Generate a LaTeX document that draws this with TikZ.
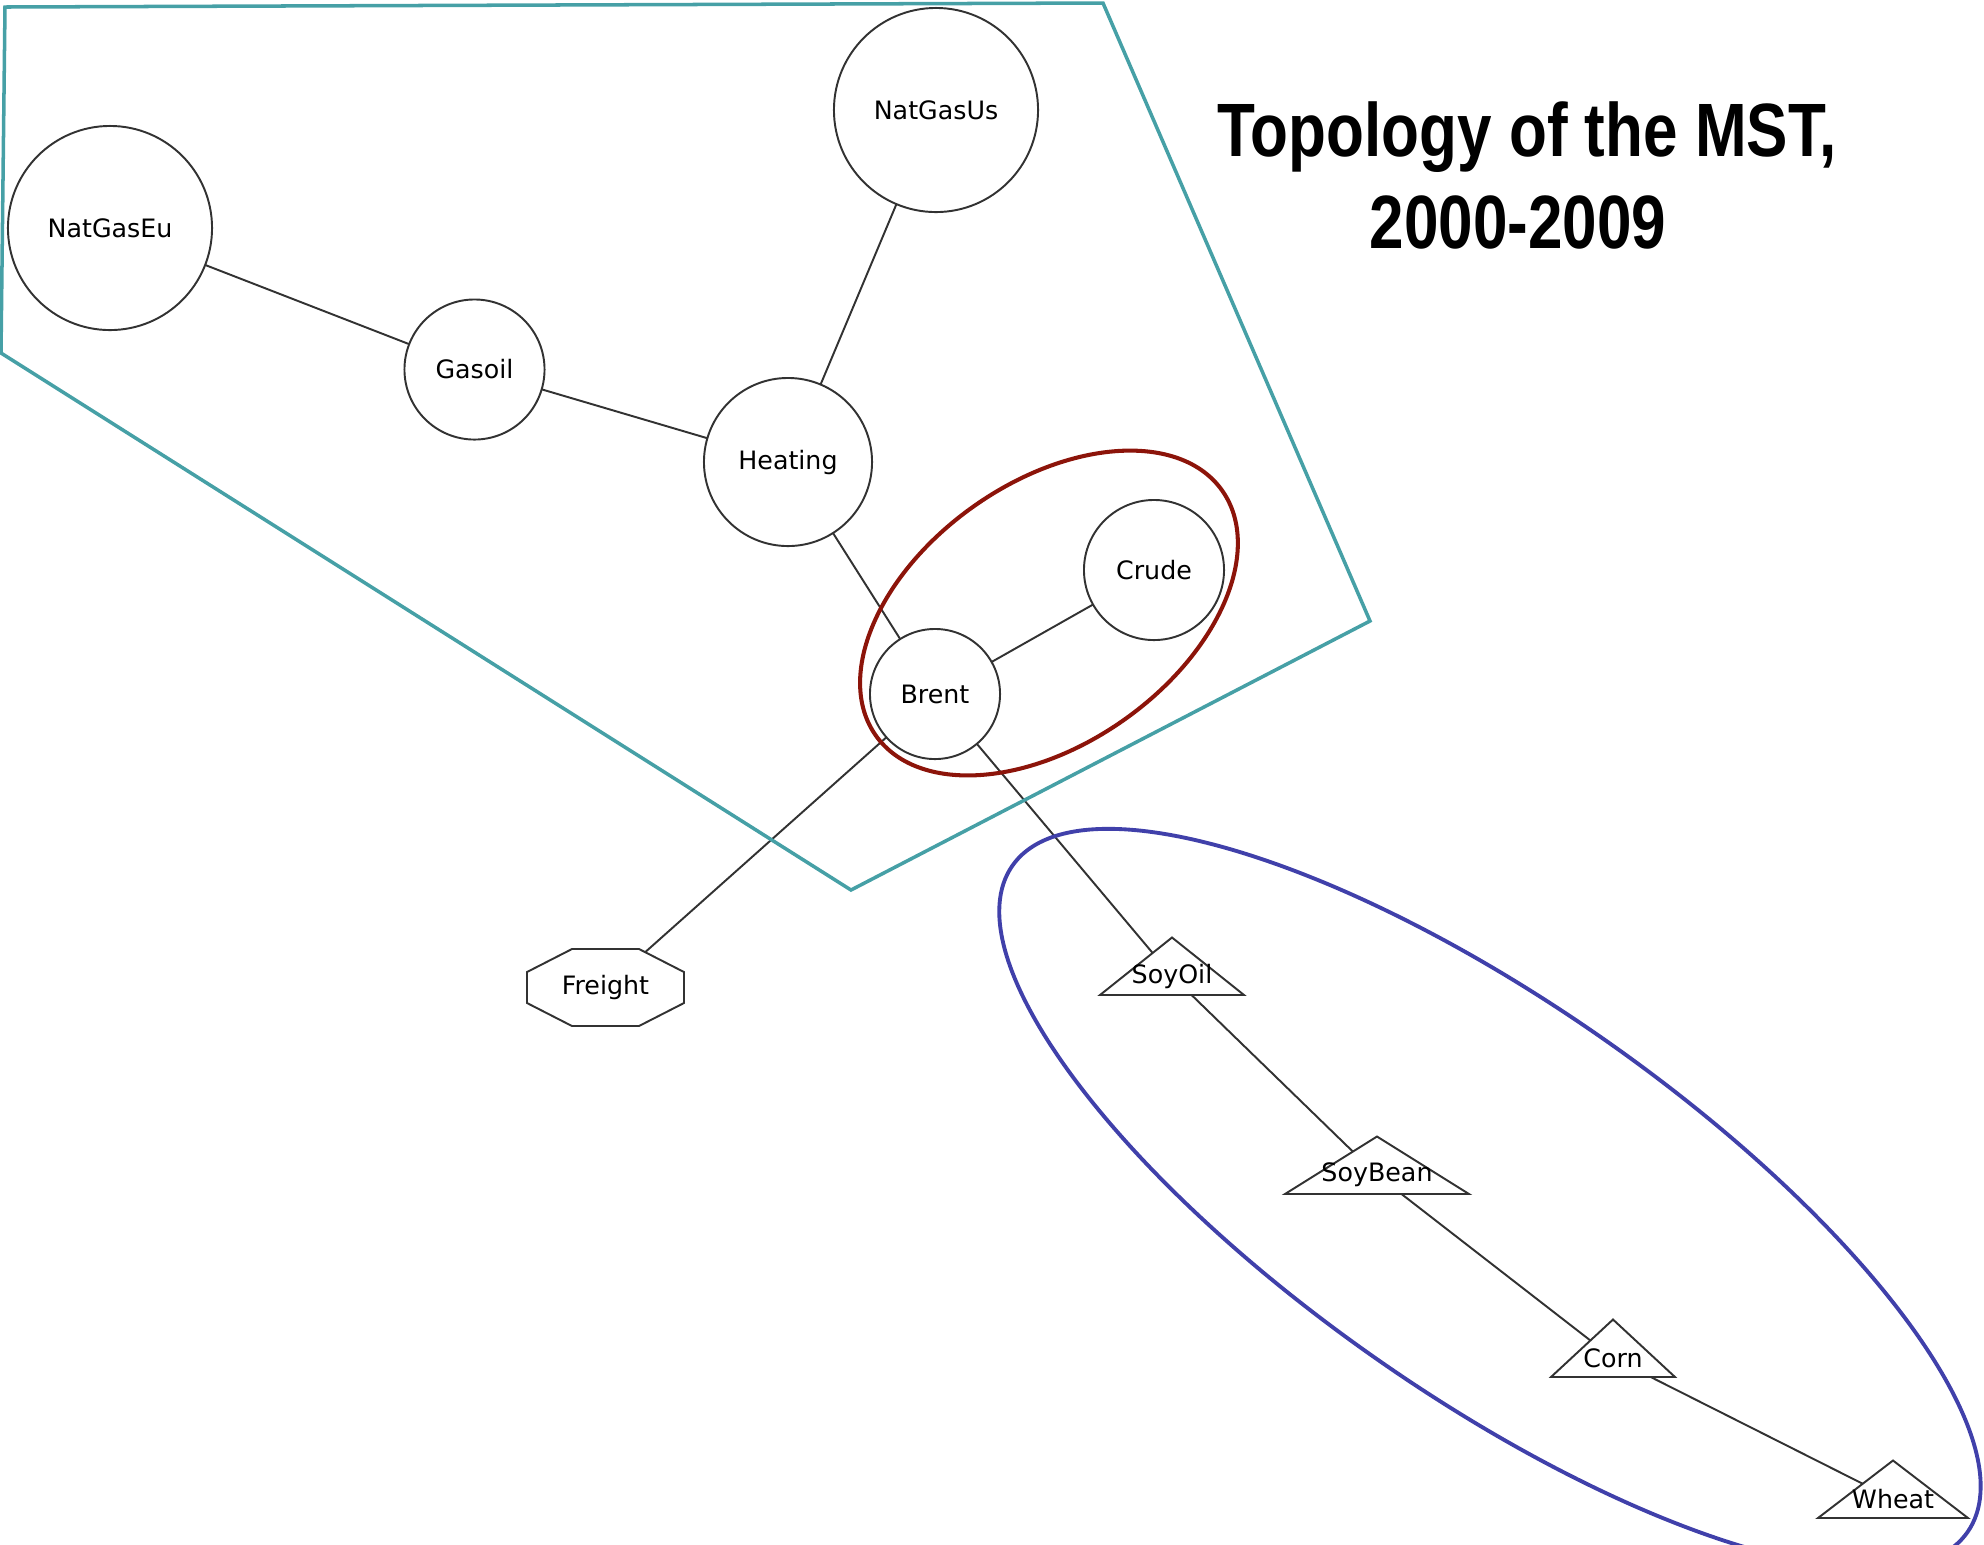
\documentclass[tikz,border=0pt]{standalone}
\usepackage{fontspec}
\setmainfont{DejaVu Sans}
\newfontfamily\titlefont[FakeStretch=0.82]{Liberation Sans}
\definecolor{tealc}{RGB}{70,160,166}
\definecolor{redc}{RGB}{140,20,10}
\definecolor{bluec}{RGB}{64,64,170}
\definecolor{edgec}{RGB}{50,50,50}
\pgfdeclarelayer{bg}
\pgfsetlayers{bg,main}
\newcommand\trinode[5]{%
  \filldraw[nodeline,fill=white] (#2,#3) ++(0,-38.5) -- ++(#4,57.5) -- ++({-2*#4},0) -- cycle;
  \node[lbl] (#1) at (#2,#3) {#5};}
\begin{document}
\begin{tikzpicture}[x=0.01cm,y=-0.01cm,
  nodeline/.style={draw=edgec,line width=0.55pt},
  nodefont/.style={font=\fontsize{7.2}{8}\selectfont},
  cnode/.style={circle,nodeline,fill=white,inner sep=0,nodefont},
  lbl/.style={inner sep=0,nodefont},
  edge/.style={edgec,line width=0.55pt},
  titlestyle/.style={anchor=base,font=\titlefont\bfseries\fontsize{21.5}{26}\selectfont}]
\useasboundingbox (0,0) rectangle (1984,1544);
% circle nodes
\node[cnode,minimum size=2.04cm] (natgaseu) at (110,228) {NatGasEu};
\node[cnode,minimum size=2.04cm] (natgasus) at (936,110) {NatGasUs};
\node[cnode,minimum size=1.40cm] (gasoil) at (474.5,369.5) {Gasoil};
\node[cnode,minimum size=1.68cm] (heating) at (788,462) {Heating};
\node[cnode,minimum size=1.40cm] (crude) at (1154,570) {Crude};
\node[cnode,minimum size=1.30cm] (brent) at (935,694) {Brent};
% octagon node
\filldraw[nodeline,fill=white] (605.5,987.5) ++(-33.5,-38.5) -- ++(67,0) -- ++(45,23) -- ++(0,31) -- ++(-45,23) -- ++(-67,0) -- ++(-45,-23) -- ++(0,-31) -- cycle;
\node[lbl] (freight) at (605.5,987.5) {Freight};
% triangle nodes
\trinode{soyoil}{1172}{976}{72}{SoyOil}
\trinode{soybean}{1377}{1175}{92}{SoyBean}
\trinode{corn}{1613}{1358}{62}{Corn}
\trinode{wheat}{1893}{1499}{75}{Wheat}
% edges
\begin{pgfonlayer}{bg}
\draw[edge] (natgaseu.center) -- (gasoil.center);
\draw[edge] (gasoil.center) -- (heating.center);
\draw[edge] (heating.center) -- (natgasus.center);
\draw[edge] (heating.center) -- (brent.center);
\draw[edge] (brent.center) -- (crude.center);
\draw[edge] (brent.center) -- (freight.center);
\draw[edge] (brent.center) -- (soyoil.center);
\draw[edge] (soyoil.center) -- (soybean.center);
\draw[edge] (soybean.center) -- (corn.center);
\draw[edge] (corn.center) -- (wheat.center);
\end{pgfonlayer}
% cluster outlines
\draw[tealc,line width=1pt,line join=miter] (5,7) -- (1103,3) -- (1370,621) -- (851,890) -- (1,353) -- cycle;
\coordinate (redc0) at (1049,613);
\draw[redc,line width=1.15pt,rotate around={35.3:(redc0)}] (redc0) ellipse [x radius=2.12cm, y radius=1.305cm];
\coordinate (bluec0) at (1490,1199);
\draw[bluec,line width=1.1pt,rotate around={-34.9:(bluec0)}] (bluec0) ellipse [x radius=5.82cm, y radius=1.96cm];
% title
\node[titlestyle] (title1) at (1527,156) {Topology of the MST,};
\node[titlestyle] (title2) at (1518,248) {2000-2009};
\end{tikzpicture}
\end{document}
